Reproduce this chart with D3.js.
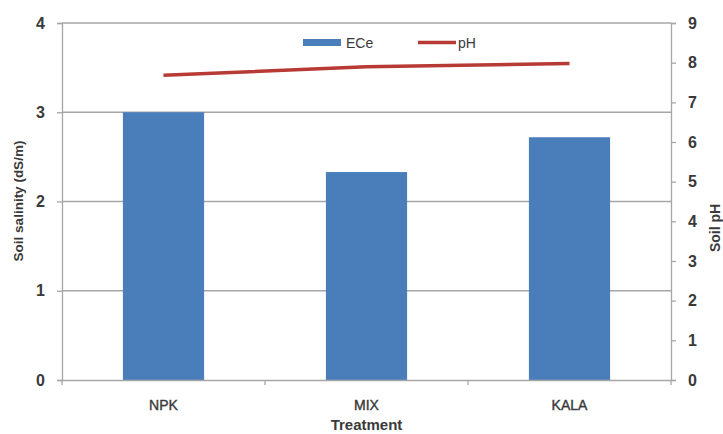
<!DOCTYPE html>
<html><head><meta charset="utf-8">
<script src="https://cdn.jsdelivr.net/npm/d3@7"></script>
<style>body{margin:0;background:#fff}svg{display:block}</style>
</head><body>
<script>
const categories = ["NPK", "MIX", "KALA"];
const eceValues = [3.0, 2.33, 2.72];
const phValues = [7.68, 7.9, 7.98];
const leftTicks = [0, 1, 2, 3, 4];
const rightTicks = [0, 1, 2, 3, 4, 5, 6, 7, 8, 9];

const W = 723, H = 434;
const m = {l: 62, r: 52, t: 23, b: 54};
const svg = d3.select("body").append("svg").attr("width", W).attr("height", H);
const x = d3.scaleBand().domain(categories).range([m.l, W - m.r]);
const yL = d3.scaleLinear().domain([0, 4]).range([H - m.b, m.t]);
const yR = d3.scaleLinear().domain([0, 9]).range([H - m.b, m.t]);
const font = "'Liberation Sans', Arial, sans-serif";
const txt = "#3a3a3a", grid = "#a6a6a6";

// gridlines
svg.append("g").selectAll("line").data(leftTicks.filter(d => d > 0)).join("line")
  .attr("x1", m.l).attr("x2", W - m.r).attr("y1", d => yL(d)).attr("y2", d => yL(d))
  .attr("stroke", grid).attr("stroke-width", 1.3);

// bars
const bw = x.bandwidth() * 0.4;
svg.append("g").selectAll("rect").data(categories).join("rect")
  .attr("x", (d) => x(d) + x.bandwidth() / 2 - bw / 2)
  .attr("width", bw)
  .attr("y", (d, i) => yL(eceValues[i]))
  .attr("height", (d, i) => yL(0) - yL(eceValues[i]))
  .attr("fill", "#4a7ebb");

// axes
const gL = svg.append("g").attr("transform", `translate(${m.l},0)`)
  .call(d3.axisLeft(yL).tickValues(leftTicks).tickFormat(d3.format("d")).tickSize(5).tickPadding(12));
const gR = svg.append("g").attr("transform", `translate(${W - m.r},0)`)
  .call(d3.axisRight(yR).tickValues(rightTicks).tickFormat(d3.format("d")).tickSize(5).tickPadding(12));
const gX = svg.append("g").attr("transform", `translate(0,${H - m.b})`)
  .call(d3.axisBottom(x).tickSize(0).tickPadding(20));
// bottom boundary ticks
const xb = [m.l, ...categories.slice(1).map(c => x(c)), W - m.r];
svg.append("g").selectAll("line").data(xb).join("line")
  .attr("x1", d => d).attr("x2", d => d).attr("y1", H - m.b).attr("y2", H - m.b + 5)
  .attr("stroke", grid).attr("stroke-width", 1.3);
[gL, gR, gX].forEach(g => {
  g.selectAll("path.domain").attr("stroke", grid).attr("stroke-width", 1.3);
  g.selectAll(".tick line").attr("stroke", grid).attr("stroke-width", 1.3);
  g.selectAll("text").attr("fill", txt).attr("font-family", font)
    .attr("font-weight", "bold").attr("font-size", 16);
});
gX.selectAll("text").attr("font-size", 14).attr("font-weight", "normal")
  .attr("stroke", txt).attr("stroke-width", 0.4);
gX.select("path.domain").attr("d", `M${m.l},0.5H${W - m.r}`);

// pH line
const line = d3.line().x((d, i) => x(categories[i]) + x.bandwidth() / 2).y(d => yR(d));
svg.append("path").datum(phValues).attr("d", line)
  .attr("fill", "none").attr("stroke", "#b73a35").attr("stroke-width", 3.5);

// legend
svg.append("rect").attr("x", 303).attr("y", 39).attr("width", 38).attr("height", 7).attr("fill", "#4a7ebb");
svg.append("text").attr("x", 346).attr("y", 48).text("ECe")
  .attr("font-family", font).attr("font-size", 14).attr("fill", txt);
svg.append("line").attr("x1", 418).attr("x2", 456).attr("y1", 42.5).attr("y2", 42.5)
  .attr("stroke", "#b73a35").attr("stroke-width", 3.5);
svg.append("text").attr("x", 458).attr("y", 48).text("pH")
  .attr("font-family", font).attr("font-size", 14).attr("fill", txt);

// axis titles
svg.append("text").attr("transform", "translate(23,201) rotate(-90)")
  .attr("text-anchor", "middle").text("Soil salinity (dS/m)")
  .attr("font-family", font).attr("font-weight", "bold").attr("font-size", 13.5).attr("fill", txt);
svg.append("text").attr("transform", "translate(720,228) rotate(-90)")
  .attr("text-anchor", "middle").text("Soil pH")
  .attr("font-family", font).attr("font-weight", "bold").attr("font-size", 14).attr("fill", txt);
svg.append("text").attr("x", (m.l + W - m.r) / 2).attr("y", 430)
  .attr("text-anchor", "middle").text("Treatment")
  .attr("font-family", font).attr("font-weight", "bold").attr("font-size", 15).attr("fill", txt);
</script>
</body></html>
